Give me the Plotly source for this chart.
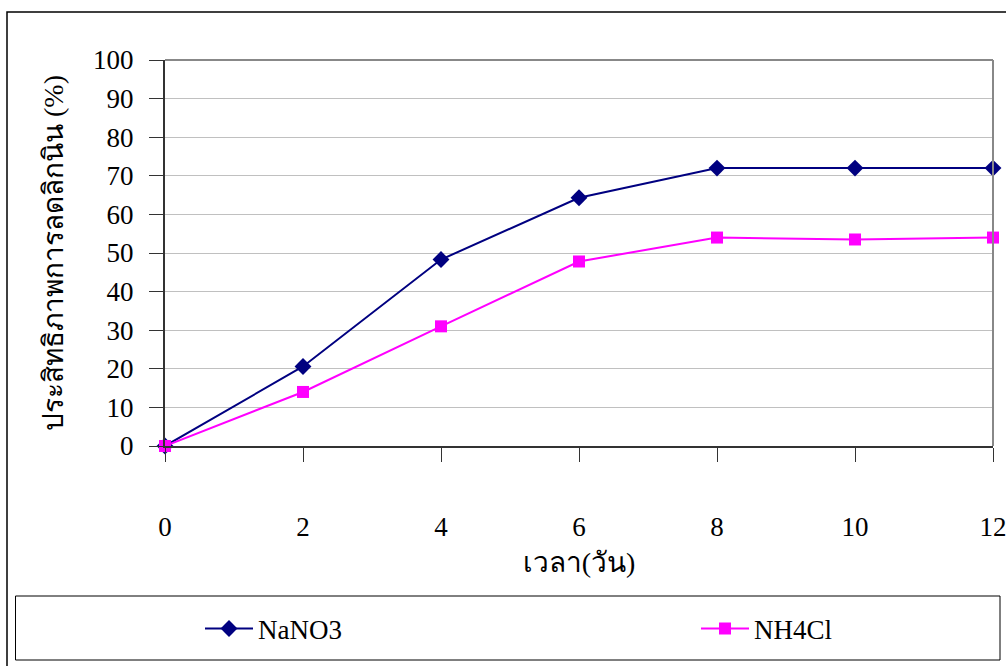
import plotly.graph_objects as go

days = [0, 2, 4, 6, 8, 10, 12]
nano3 = [0, 20.6, 48.3, 64.3, 72.0, 72.0, 72.0]
nh4cl = [0, 14.0, 31.0, 47.8, 54.0, 53.5, 54.0]
series_names = ["NaNO3", "NH4Cl"]
x_title = "เวลา(วัน)"
y_title = "ประสิทธิภาพการลดลิกนิน (%)"

W, H = 1006, 666
L, R, T, B = 165, 993, 60, 446

def px(x):
    return (x - L) / (R - L)

def py(y):
    return (B - y) / (B - T)

font_fam = "Times New Roman, Liberation Serif, serif"

fig = go.Figure()
fig.add_trace(go.Scatter(x=days, y=nano3, name=series_names[0], mode="lines+markers",
                         line=dict(color="#000080", width=2),
                         marker=dict(symbol="diamond", size=13, color="#000080"),
                         cliponaxis=False, legend="legend"))
fig.add_trace(go.Scatter(x=days, y=nh4cl, name=series_names[1], mode="lines+markers",
                         line=dict(color="#FF00FF", width=2),
                         marker=dict(symbol="square", size=12, color="#FF00FF"),
                         cliponaxis=False, legend="legend2"))

shapes = [
    dict(type="rect", xref="paper", yref="paper", x0=px(7), x1=px(1012), y0=py(12), y1=py(672),
         line=dict(color="#000000", width=1.5), layer="below"),
    dict(type="rect", xref="paper", yref="paper", x0=px(15.5), x1=px(1000), y0=py(596), y1=py(660),
         line=dict(color="#000000", width=1), layer="below"),
    dict(type="line", xref="paper", yref="paper", x0=0, x1=1, y0=1, y1=1,
         line=dict(color="#888888", width=2)),
    dict(type="line", xref="paper", yref="paper", x0=1, x1=1, y0=0, y1=1,
         line=dict(color="#888888", width=2)),
]

leg_common = dict(orientation="h", xanchor="left", yanchor="middle", itemwidth=48,
                  font=dict(family=font_fam, size=27), bgcolor="rgba(0,0,0,0)", borderwidth=0)

fig.update_layout(
    width=W, height=H,
    margin=dict(l=L, r=W - R, t=T, b=H - B, autoexpand=False),
    paper_bgcolor="white", plot_bgcolor="white",
    font=dict(family=font_fam, size=27, color="#000000"),
    shapes=shapes,
    showlegend=True,
    legend=dict(x=px(200), y=py(629), **leg_common),
    legend2=dict(x=px(696), y=py(629), **leg_common),
    xaxis=dict(range=[0, 12], tickvals=days, ticks="outside", ticklen=14, tickcolor="#333333",
               showline=True, linecolor="#333333", linewidth=2, showgrid=False, zeroline=False,
               ticklabelstandoff=42, ticklabeloverflow="allow",
               title=dict(text=x_title, standoff=11, font=dict(size=28))),
    yaxis=dict(range=[0, 100], tickvals=list(range(0, 101, 10)), ticks="outside", ticklen=14,
               tickcolor="#333333", showline=True, linecolor="#333333", linewidth=2,
               showgrid=True, gridcolor="#c0c0c0", gridwidth=1, zeroline=False,
               ticklabelstandoff=10, ticklabeloverflow="allow",
               title=dict(text=y_title, standoff=21, font=dict(size=28))),
)

fig.write_html("out.html")
